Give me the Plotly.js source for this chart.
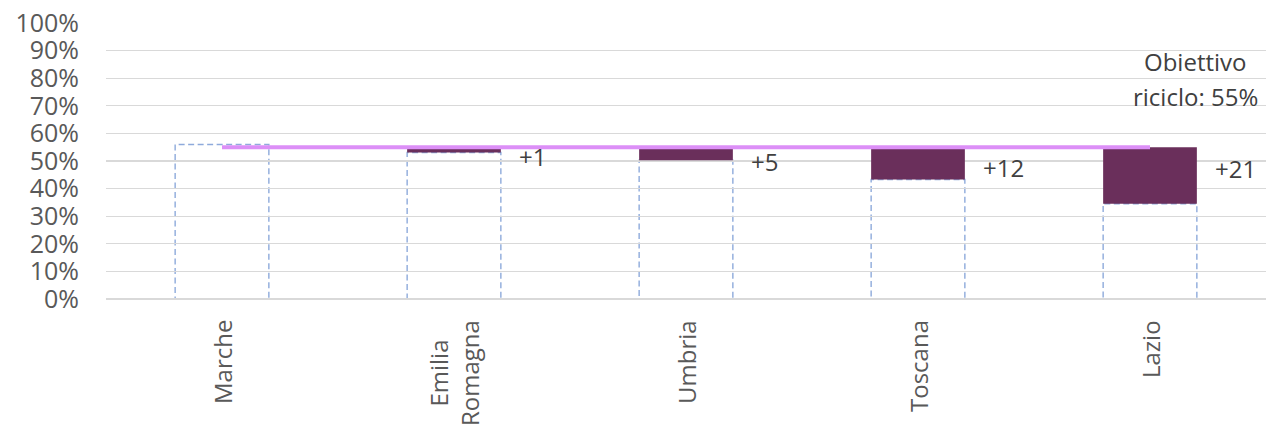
<!DOCTYPE html>
<html>
<head>
<meta charset="utf-8">
<script src="https://cdn.plot.ly/plotly-3.0.1.min.js"></script>
<style>html,body{margin:0;padding:0;background:#fff;}#chart{width:1268px;height:428px;}</style>
</head>
<body>
<div id="chart"></div>
<script>
// Data
const regions = ["Marche", "Emilia<br>Romagna", "Umbria", "Toscana", "Lazio"];
const recycling = [0.56, 0.531, 0.503, 0.433, 0.345];
const target = 0.55;
const gapLabels = ["", "+1", "+5", "+12", "+21"];
const yTickVals = [0, 0.1, 0.2, 0.3, 0.4, 0.5, 0.6, 0.7, 0.8, 0.9, 1.0];

const font = "Open Sans, DejaVu Sans, sans-serif";
const barW = 0.404;

// gap bars (from value up to target), only where below target
const gapBase = [], gapLen = [], gapX = [];
recycling.forEach((v, i) => {
  if (v < target) { gapX.push(regions[i]); gapBase.push(v); gapLen.push(target - v); }
});

const traces = [
  {
    type: "bar", x: gapX, y: gapLen, base: gapBase, width: barW,
    marker: {color: "#6a2f5b", line: {width: 0}}, hoverinfo: "skip", showlegend: false
  },
  {
    type: "scatter", mode: "lines",
    x: [regions[0], regions[regions.length - 1]], y: [target, target],
    line: {color: "#dc8ff7", width: 4}, hoverinfo: "skip", showlegend: false
  }
];

// dashed outlines of the actual values
const shapes = recycling.map((v, i) => ({
  type: "rect", xref: "x", yref: "y",
  x0: i - barW / 2, x1: i + barW / 2, y0: 0, y1: v,
  line: {color: "#8eaadb", width: 1.4, dash: "6px,3.5px"},
  fillcolor: "rgba(0,0,0,0)", layer: "below"
}));

const labelY = [null, 0.516, 0.497, 0.477, 0.474];
const annotations = [];
gapLabels.forEach((t, i) => {
  if (!t) return;
  annotations.push({
    x: i + 0.27, y: labelY[i], xref: "x", yref: "y", text: t, showarrow: false,
    xanchor: "left", yanchor: "middle", font: {family: font, size: 24, color: "#404040"}
  });
});
// category labels (rotated, lines centred like the reference)
regions.forEach(r => {
  annotations.push({
    x: r, xref: "x", y: 0, yref: "paper", yanchor: "top", xanchor: "center",
    yshift: -19, text: r, textangle: -90, align: "center", showarrow: false,
    font: {family: font, size: 24, color: "#595959"}
  });
});
annotations.push({
  xref: "paper", yref: "paper", x: 0.939, y: 0.862, text: "Obiettivo", showarrow: false,
  xanchor: "center", yanchor: "middle", font: {family: font, size: 24, color: "#404040"}
});
annotations.push({
  xref: "paper", yref: "paper", x: 0.939, y: 0.735, text: "riciclo: 55%", showarrow: false,
  xanchor: "center", yanchor: "middle", font: {family: font, size: 24, color: "#404040"}
});

const layout = {
  width: 1268, height: 428,
  margin: {l: 106, r: 2, t: 23, b: 129, pad: 0},
  paper_bgcolor: "#fff", plot_bgcolor: "#fff",
  barmode: "overlay",
  showlegend: false,
  xaxis: {
    type: "category", categoryarray: regions, range: [-0.5, regions.length - 0.5],
    showticklabels: false,
    showgrid: false, zeroline: false, showline: false, ticks: ""
  },
  yaxis: {
    range: [0, 1], tickvals: yTickVals, tickformat: ".0%",
    tickfont: {family: font, size: 25, color: "#595959"},
    showgrid: true, gridcolor: "#d9d9d9", gridwidth: 1.3,
    zeroline: true, zerolinecolor: "#d9d9d9", zerolinewidth: 1.3,
    showline: false, ticks: "", ticklabelstandoff: 26
  },
  shapes: shapes,
  annotations: annotations
};

Plotly.newPlot("chart", traces, layout, {staticPlot: true, displayModeBar: false});
</script>
</body>
</html>
